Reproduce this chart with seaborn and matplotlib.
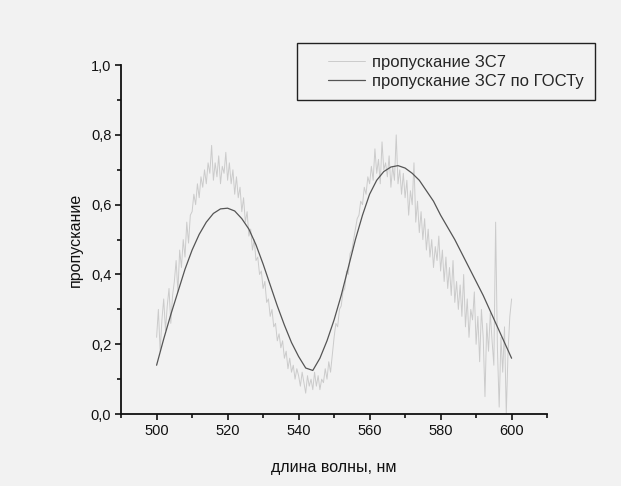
import numpy as np
import pandas as pd
import seaborn as sns
import matplotlib.pyplot as plt
from matplotlib.ticker import MultipleLocator, FuncFormatter
from matplotlib.legend_handler import HandlerLine2D

# measured transmission, 0.5 nm step from 500 to 600 nm
wl_start, wl_step = 500.0, 0.5
measured = [
    0.22, 0.30, 0.18, 0.27, 0.33, 0.24, 0.31, 0.36, 0.26, 0.34,
    0.38, 0.44, 0.35, 0.47, 0.42, 0.50, 0.45, 0.55, 0.49, 0.57,
    0.58, 0.63, 0.60, 0.66, 0.62, 0.68, 0.65, 0.70, 0.66, 0.72,
    0.69, 0.77, 0.67, 0.72, 0.68, 0.74, 0.66, 0.71, 0.69, 0.75,
    0.67, 0.72, 0.66, 0.70, 0.63, 0.68, 0.62, 0.65, 0.58, 0.62,
    0.55, 0.58, 0.51, 0.53, 0.47, 0.50, 0.44, 0.45, 0.40, 0.41,
    0.36, 0.38, 0.32, 0.33, 0.28, 0.30, 0.25, 0.26, 0.21, 0.23,
    0.19, 0.21, 0.16, 0.18, 0.13, 0.16, 0.12, 0.14, 0.10, 0.13,
    0.11, 0.08, 0.12, 0.09, 0.06, 0.11, 0.08, 0.10, 0.07, 0.12,
    0.08, 0.11, 0.07, 0.10, 0.09, 0.13, 0.10, 0.15, 0.12, 0.17,
    0.22, 0.26, 0.25, 0.30, 0.31, 0.35, 0.36, 0.41, 0.40, 0.46,
    0.47, 0.50, 0.53, 0.56, 0.57, 0.61, 0.60, 0.65, 0.63, 0.68,
    0.66, 0.71, 0.67, 0.76, 0.69, 0.73, 0.66, 0.78, 0.70, 0.72,
    0.68, 0.74, 0.65, 0.71, 0.67, 0.80, 0.66, 0.70, 0.63, 0.69,
    0.62, 0.67, 0.57, 0.64, 0.60, 0.72, 0.55, 0.61, 0.52, 0.58,
    0.50, 0.56, 0.47, 0.53, 0.45, 0.50, 0.42, 0.48, 0.44, 0.51,
    0.41, 0.47, 0.38, 0.45, 0.36, 0.42, 0.34, 0.44, 0.32, 0.38,
    0.30, 0.37, 0.28, 0.40, 0.25, 0.33, 0.22, 0.30, 0.27, 0.35,
    0.20, 0.28, 0.15, 0.30, 0.22, 0.05, 0.26, 0.18, 0.29, 0.21,
    0.14, 0.55, 0.19, 0.02, 0.22, 0.12, 0.25, 0.00, 0.18, 0.28,
    0.33,
]

# reference (ГОСТ) transmission, 2 nm step
gost_wl = list(range(500, 601, 2))
gost = [
    0.14, 0.215, 0.285, 0.35, 0.415, 0.47, 0.515, 0.55, 0.575, 0.588,
    0.59, 0.582, 0.56, 0.53, 0.485, 0.43, 0.37, 0.31, 0.255, 0.205,
    0.165, 0.132, 0.125, 0.16, 0.21, 0.27, 0.34, 0.42, 0.50, 0.57,
    0.63, 0.67, 0.695, 0.708, 0.712, 0.705, 0.69, 0.67, 0.64, 0.61,
    0.57, 0.535, 0.50, 0.46, 0.42, 0.38, 0.34, 0.295, 0.25, 0.205,
    0.16,
]

meas_wl = wl_start + wl_step * np.arange(len(measured))
df_meas = pd.DataFrame({"wl": meas_wl, "t": measured})
df_gost = pd.DataFrame({"wl": gost_wl, "t": gost})


class ShortLine(HandlerLine2D):
    # legend line drawn only in the right part of the handle box (Origin look)
    def get_xdata(self, legend, xdescent, ydescent, width, height, fontsize):
        x0 = -xdescent + 0.34 * width
        x1 = -xdescent + width
        return [x0, x1], [x0, x1]


bg = "#f2f2f2"
ink = "#111111"
sns.set_style("ticks")
plt.rcParams["font.family"] = ["Liberation Sans", "DejaVu Sans"]

fig = plt.figure(figsize=(6.21, 4.86), dpi=100, facecolor=bg)
ax = fig.add_axes([0.195, 0.148, 0.686, 0.718])
ax.set_facecolor(bg)

sns.lineplot(data=df_meas, x="wl", y="t", ax=ax, color="#cbcbcb", lw=0.7,
             label="пропускание ЗС7")
sns.lineplot(data=df_gost, x="wl", y="t", ax=ax, color="#555555", lw=0.9,
             label="пропускание ЗС7 по ГОСТу")

ax.set_xlim(490, 610)
ax.set_ylim(0, 1.0)
ax.xaxis.set_major_locator(MultipleLocator(20))
ax.xaxis.set_minor_locator(MultipleLocator(10))
ax.yaxis.set_major_locator(MultipleLocator(0.2))
ax.yaxis.set_minor_locator(MultipleLocator(0.1))
ax.yaxis.set_major_formatter(FuncFormatter(lambda v, p: f"{v:.1f}".replace(".", ",")))

sns.despine(ax=ax)
for s in ("left", "bottom"):
    ax.spines[s].set_linewidth(1.3)
    ax.spines[s].set_color(ink)
ax.tick_params(which="major", length=4, width=1.2, labelsize=10.5,
               colors=ink, pad=3)
ax.tick_params(which="minor", length=3, width=1.2, colors=ink)

ax.set_xlabel("длина волны, нм", fontsize=11.5, color=ink, labelpad=16)
ax.set_ylabel("пропускание", fontsize=11.5, color=ink, labelpad=6)

ax.get_legend().remove()
h, l = ax.get_legend_handles_labels()
leg = fig.legend(h, l, loc="upper right", bbox_to_anchor=(595 / 621, 1 - 43 / 486),
                 fontsize=12, frameon=True, fancybox=False, edgecolor="#222222",
                 facecolor=bg, framealpha=1, handlelength=3.4, handletextpad=0.4,
                 borderpad=0.7, labelspacing=0.25, borderaxespad=0,
                 handler_map={plt.Line2D: ShortLine()})
leg.get_frame().set_linewidth(1.0)

fig.savefig("out.png", dpi=100, facecolor=bg)
plt.close(fig)
